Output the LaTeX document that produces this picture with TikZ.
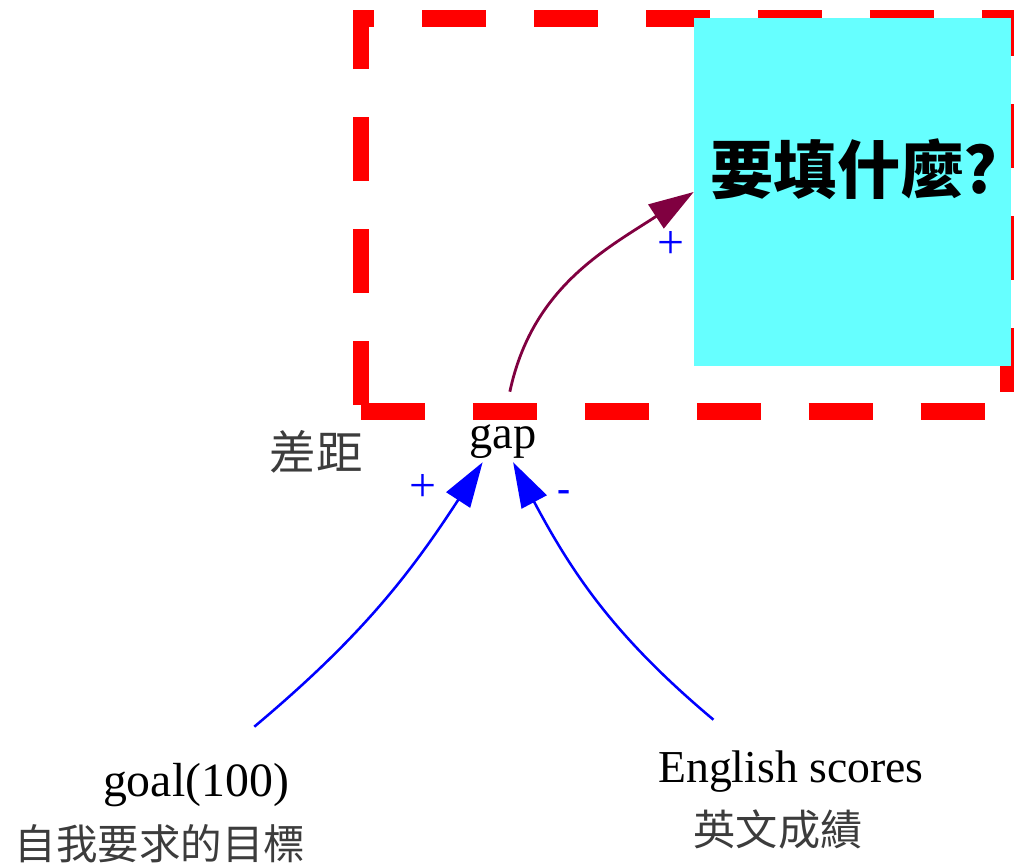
\documentclass[tikz,border=0pt]{standalone}
\usepackage{fontspec}
\setmainfont{Liberation Serif}
\newfontfamily\cjk{Noto Sans CJK TC}
\usetikzlibrary{arrows.meta}

\definecolor{askcyan}{HTML}{66FFFF}
\definecolor{linkred}{HTML}{800040}
\definecolor{labelgray}{HTML}{3C3C3C}

\tikzset{
  dashbox/.style={draw=red, line width=11.4pt, dash pattern=on 45.5pt off 34.1pt},
  askbox/.style={fill=askcyan, minimum width=7.925cm, minimum height=8.7cm, inner sep=0pt},
  asktext/.style={font=\cjk\bfseries\fontsize{45}{50}\selectfont},
  word/.style={inner sep=0pt, font=\fontsize{31}{36}\selectfont},
  cjklabel/.style={text=labelgray, font=\cjk\fontsize{30}{34}\selectfont},
  sign/.style={text=blue, font=\fontsize{34}{36}\selectfont},
  link/.style={blue, line width=1.8pt, -{Triangle[length=32pt, width=20pt]}},
  redlink/.style={linkred, line width=2pt, -{Triangle[length=32pt, width=20pt]}}
}

\begin{document}
\begin{tikzpicture}[x=0.025cm, y=-0.025cm]
\useasboundingbox (0,0) rectangle (1014,867);

\draw[dashbox] (361,405) -- (361,18.5) -- (1008,18.5) -- (1008,411.5);
\draw[dashbox] (361,411.5) -- (1008,411.5);
\node[askbox] (ask) at (852.5,192) {};
\node[asktext] (asklabel) at (854,169) {要填什麼?};

\node[word, minimum height=1.75cm, text height=1.3cm, text depth=0.25cm, font=\fontsize{33}{38}\selectfont] (gap) at (503,427) {gap};
\node[cjklabel, font=\cjk\fontsize{33}{38}\selectfont] (gaplabel) at (316,452) {差距};

\node[word, minimum height=2.9cm, font=\fontsize{34}{40}\selectfont] (goal) at (196,785) {goal(100)};
\node[cjklabel, font=\cjk\fontsize{29.5}{34}\selectfont] (goallabel) at (160,844) {自我要求的目標};

\node[word, minimum height=2.6cm, font=\fontsize{32.5}{38}\selectfont] (english) at (791,772) {English scores};
\node[cjklabel] (englishlabel) at (778,829) {英文成績};

% links
\draw[redlink] (gap.79) to[out=78, in=213] (ask.west);
\draw[link] (goal.45) to[out=40, in=237] (gap.-120);
\draw[link] (english.146) to[out=140, in=-62] (gap.-74);

\node[sign] (plusask) at (671,245) {+};
\node[sign] (plusgoal) at (423,488) {+};
\node[sign, font=\bfseries\fontsize{28}{30}\selectfont] (minusenglish) at (564,496) {-};

\end{tikzpicture}
\end{document}
